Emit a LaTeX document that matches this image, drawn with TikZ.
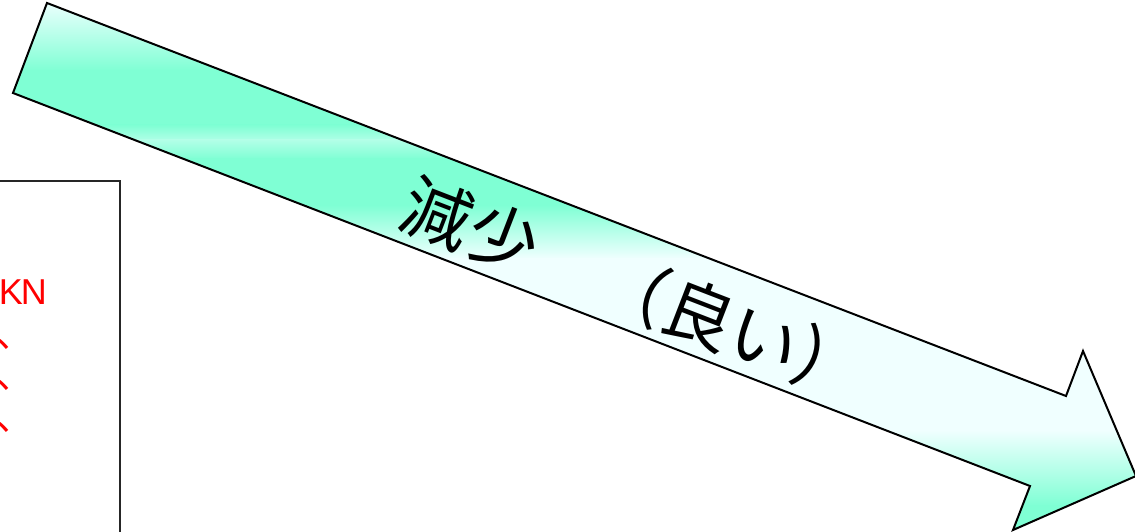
\documentclass[tikz,border=0pt]{standalone}
\usepackage{fontspec}
\setmainfont{Liberation Sans}
\newfontfamily\jp{Noto Sans CJK JP}
\definecolor{aqua}{RGB}{127,255,212}
\definecolor{azurelt}{RGB}{240,255,255}
\tikzset{
  arrowline/.style={line width=2pt, line join=miter, draw=black},
  boxline/.style={line width=1.5pt, draw=black!85},
  redtext/.style={text=red, inner sep=0pt, font=\fontsize{36}{36}\selectfont},
  redjp/.style={text=red, inner sep=0pt, font=\jp\fontsize{36}{36}\selectfont},
  arrowlabel/.style={font=\jp\fontsize{70}{70}\selectfont, inner sep=0pt}
}
\begin{document}
\begin{tikzpicture}[x=1pt,y=-1pt]
\useasboundingbox (0,0) rectangle (1135,532);
\clip (0,0) rectangle (1135,532);
% left box
\draw[boxline] (-10,181) rectangle (120,560);
\node[redtext, anchor=base east] (kn) at (47,304) {K\kern-2ptN};
\node[redjp, anchor=base west] (r1) at (-4,347) {、};
\node[redjp, anchor=base west] (r2) at (-4,388) {、};
\node[redjp, anchor=base west] (r3) at (-4,430) {、};
% arrow
\coordinate (t1) at (47,3);
\coordinate (t2) at (13,93);
\coordinate (n2) at (1030,486);
\coordinate (b2) at (1013,530);
\coordinate (tip) at (1136,476);
\coordinate (b1) at (1083,351);
\coordinate (n1) at (1066,396);
\begin{scope}
\clip (t1) -- (n1) -- (b1) -- (tip) -- (b2) -- (n2) -- (t2) -- cycle;
\shade[top color=azurelt, bottom color=aqua] (0,-1) rectangle (1140,71);
\fill[aqua] (0,70) rectangle (1140,126);
\shade[top color=aqua, bottom color=aqua!55!azurelt] (0,125) rectangle (1140,141);
\shade[top color=aqua!55!azurelt, bottom color=aqua] (0,140) rectangle (1140,159);
\fill[aqua] (0,158) rectangle (1140,206);
\shade[top color=aqua, bottom color=azurelt] (0,205) rectangle (1140,259);
\fill[azurelt] (0,258) rectangle (1140,431);
\shade[top color=azurelt, bottom color=aqua] (0,430) rectangle (1140,506);
\fill[aqua] (0,505) rectangle (1140,540);
\end{scope}
\draw[arrowline] (t1) -- (n1) -- (b1) -- (tip) -- (b2) -- (n2) -- (t2) -- cycle;
\node[arrowlabel, rotate=-21.1] (lbl) at (634,289) {減少　（良い）};
\end{tikzpicture}
\end{document}
